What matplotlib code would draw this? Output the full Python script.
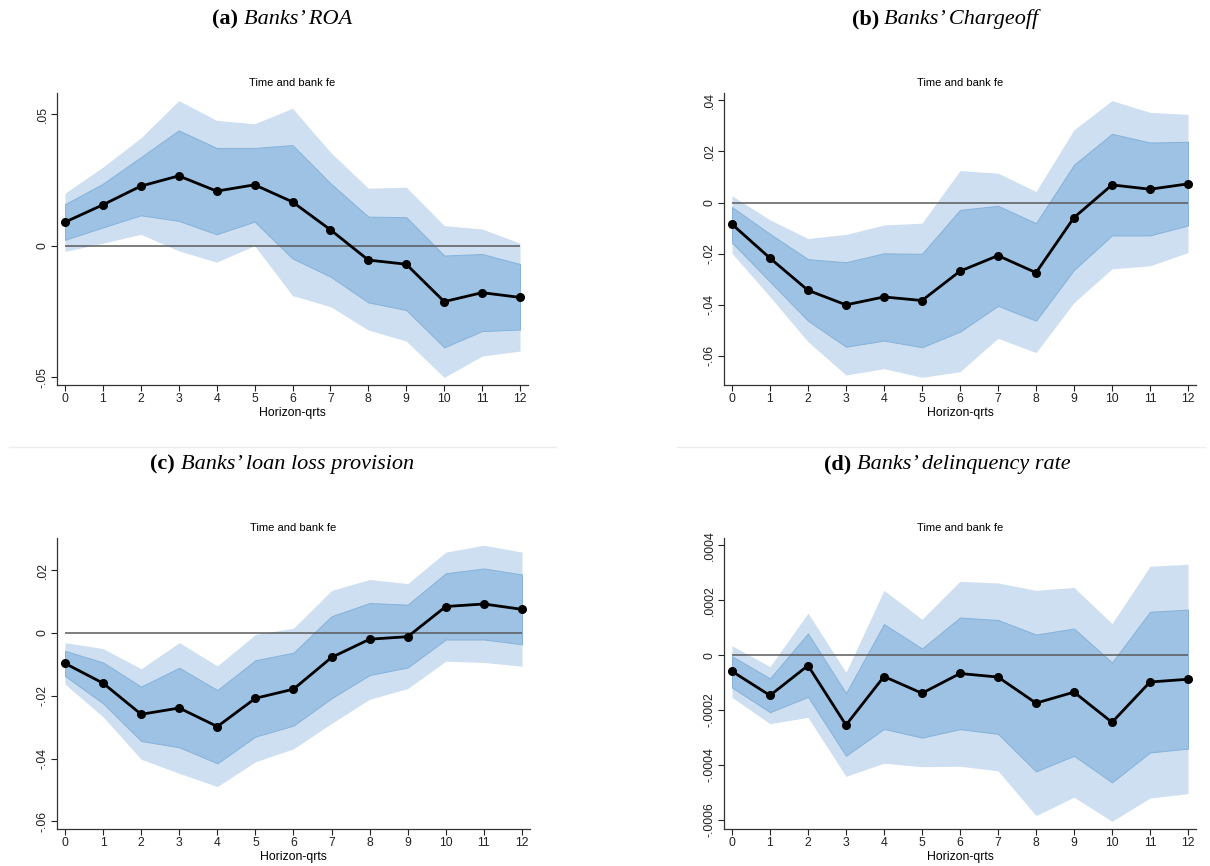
import matplotlib
matplotlib.use("Agg")
import matplotlib.pyplot as plt

# horizon in quarters
horizon = [0, 1, 2, 3, 4, 5, 6, 7, 8, 9, 10, 11, 12]

# (a) ROA
roa_coef = [0.0089, 0.0155, 0.0226, 0.0265, 0.0207, 0.0231, 0.0166, 0.0060, -0.0055, -0.0071, -0.0213, -0.0179, -0.0197]
roa_in_hi = [0.0157, 0.0235, 0.0336, 0.0438, 0.0371, 0.0371, 0.0382, 0.0237, 0.0110, 0.0108, -0.0038, -0.0032, -0.0070]
roa_in_lo = [0.0022, 0.0069, 0.0115, 0.0094, 0.0043, 0.0091, -0.0049, -0.0118, -0.0216, -0.0245, -0.0387, -0.0325, -0.0319]
roa_out_hi = [0.0199, 0.0298, 0.0409, 0.0551, 0.0476, 0.0463, 0.0522, 0.0355, 0.0218, 0.0222, 0.0076, 0.0063, 0.0009]
roa_out_lo = [-0.0022, 0.0009, 0.0043, -0.0020, -0.0063, 0.0000, -0.0190, -0.0232, -0.0321, -0.0363, -0.0501, -0.0420, -0.0401]

# (b) chargeoff
chg_coef = [-0.0085, -0.0218, -0.0344, -0.0401, -0.0370, -0.0384, -0.0269, -0.0208, -0.0275, -0.0059, 0.0069, 0.0052, 0.0073]
chg_in_hi = [-0.0018, -0.0123, -0.0222, -0.0234, -0.0199, -0.0201, -0.0029, -0.0013, -0.0081, 0.0148, 0.0269, 0.0235, 0.0238]
chg_in_lo = [-0.0157, -0.0310, -0.0463, -0.0565, -0.0541, -0.0567, -0.0506, -0.0405, -0.0463, -0.0264, -0.0129, -0.0129, -0.0090]
chg_out_hi = [0.0026, -0.0068, -0.0141, -0.0125, -0.0088, -0.0081, 0.0125, 0.0115, 0.0043, 0.0285, 0.0399, 0.0353, 0.0345]
chg_out_lo = [-0.0199, -0.0369, -0.0545, -0.0676, -0.0651, -0.0685, -0.0663, -0.0532, -0.0588, -0.0392, -0.0260, -0.0248, -0.0196]

# (c) loan loss provision
llp_coef = [-0.0097, -0.0160, -0.0259, -0.0239, -0.0298, -0.0208, -0.0179, -0.0078, -0.0020, -0.0012, 0.0084, 0.0092, 0.0075]
llp_in_hi = [-0.0057, -0.0094, -0.0171, -0.0111, -0.0182, -0.0087, -0.0063, 0.0053, 0.0095, 0.0090, 0.0190, 0.0205, 0.0186]
llp_in_lo = [-0.0137, -0.0224, -0.0344, -0.0364, -0.0415, -0.0330, -0.0295, -0.0208, -0.0134, -0.0110, -0.0021, -0.0021, -0.0036]
llp_out_hi = [-0.0031, -0.0050, -0.0114, -0.0031, -0.0105, -0.0005, 0.0015, 0.0135, 0.0170, 0.0157, 0.0257, 0.0279, 0.0257]
llp_out_lo = [-0.0163, -0.0267, -0.0402, -0.0447, -0.0489, -0.0410, -0.0369, -0.0288, -0.0211, -0.0177, -0.0090, -0.0094, -0.0106]

# (d) delinquency rate
dlq_coef = [-0.000059, -0.000147, -0.000038, -0.000255, -0.000078, -0.000139, -0.000067, -0.000080, -0.000175, -0.000135, -0.000245, -0.000098, -0.000088]
dlq_in_hi = [-0.000004, -0.000085, 0.000079, -0.000139, 0.000113, 0.000024, 0.000137, 0.000128, 0.000075, 0.000097, -0.000027, 0.000158, 0.000166]
dlq_in_lo = [-0.000118, -0.000208, -0.000152, -0.000367, -0.000269, -0.000301, -0.000270, -0.000287, -0.000424, -0.000367, -0.000464, -0.000355, -0.000341]
dlq_out_hi = [0.000034, -0.000042, 0.000153, -0.000063, 0.000236, 0.000131, 0.000269, 0.000263, 0.000236, 0.000247, 0.000115, 0.000324, 0.000331]
dlq_out_lo = [-0.000154, -0.000250, -0.000227, -0.000442, -0.000394, -0.000407, -0.000405, -0.000422, -0.000585, -0.000518, -0.000606, -0.000521, -0.000505]

roa_ticks = [-0.05, 0, 0.05]
chg_ticks = [-0.06, -0.04, -0.02, 0, 0.02, 0.04]
llp_ticks = [-0.06, -0.04, -0.02, 0, 0.02]
dlq_ticks = [-0.0006, -0.0004, -0.0002, 0, 0.0002, 0.0004]

OUTER = "#cddff0"
INNER = "#9dc2e3"
INNER_EDGE = "#86b2da"
SANS = "Liberation Sans"
SERIF = "Liberation Serif"

W, H = 1210, 866
fig = plt.figure(figsize=(W / 100, H / 100), dpi=100)
fig.patch.set_facecolor("white")


def add_axes_px(left, top, right, bottom):
    return fig.add_axes([left / W, 1 - bottom / H, (right - left) / W, (bottom - top) / H])


def stata_label(v):
    if v == 0:
        return "0"
    s = f"{v:g}"
    return s.replace("0.", ".", 1)


def draw_irf(ax, coef, in_lo, in_hi, out_lo, out_hi, yticks, ylim):
    ax.fill_between(horizon, out_lo, out_hi, color=OUTER, lw=0, zorder=1)
    ax.fill_between(horizon, in_lo, in_hi, facecolor=INNER, edgecolor=INNER_EDGE,
                    lw=0.7, zorder=2)
    ax.hlines(0, horizon[0], horizon[-1], color="#5a5a5a", lw=1.1, zorder=3)
    ax.plot(horizon, coef, color="black", lw=2, marker="o", ms=5.5, zorder=4)

    ax.set_xlim(-0.21, 12.21)
    ax.set_ylim(*ylim)
    ax.set_xticks(horizon)
    ax.set_xticklabels([str(h) for h in horizon], fontsize=8.8, family=SANS)
    ax.set_yticks(yticks)
    ax.set_yticklabels([stata_label(v) for v in yticks], fontsize=8.8, family=SANS,
                       rotation=90, va="center")
    ax.tick_params(direction="out", length=4, width=0.8, colors="#222222", pad=2)
    for side in ("top", "right"):
        ax.spines[side].set_visible(False)
    for side in ("left", "bottom"):
        ax.spines[side].set_color("#333333")
        ax.spines[side].set_linewidth(0.9)
    ax.set_xlabel("Horizon-qrts", fontsize=8.8, family=SANS, labelpad=1)
    ax.set_title("Time and bank fe", fontsize=8, family=SANS, pad=5)


def panel_title(cx, cy, tag, text):
    r = fig.canvas.get_renderer()
    t1 = fig.text(0, 0, tag + " ", fontsize=16, weight="bold", family=SERIF,
                  ha="left", va="center")
    t2 = fig.text(0, 0, text, fontsize=16, style="italic", family=SERIF,
                  ha="left", va="center")
    w1 = t1.get_window_extent(r).width
    w2 = t2.get_window_extent(r).width
    x0 = cx - (w1 + w2) / 2
    t1.set_position((x0 / W, 1 - cy / H))
    t2.set_position(((x0 + w1) / W, 1 - cy / H))


ax_a = add_axes_px(57, 93, 528, 385)
draw_irf(ax_a, roa_coef, roa_in_lo, roa_in_hi, roa_out_lo, roa_out_hi,
         roa_ticks, (-0.053, 0.058))
ax_b = add_axes_px(724, 93, 1196, 385)
draw_irf(ax_b, chg_coef, chg_in_lo, chg_in_hi, chg_out_lo, chg_out_hi,
         chg_ticks, (-0.0715, 0.0429))
ax_c = add_axes_px(57, 538, 530, 829)
draw_irf(ax_c, llp_coef, llp_in_lo, llp_in_hi, llp_out_lo, llp_out_hi,
         llp_ticks, (-0.0624, 0.0302))
ax_d = add_axes_px(724, 538, 1196, 829)
draw_irf(ax_d, dlq_coef, dlq_in_lo, dlq_in_hi, dlq_out_lo, dlq_out_hi,
         dlq_ticks, (-0.000634, 0.000427))

panel_title(282, 19, "(a)", "Banks’ ROA")
panel_title(945, 19, "(b)", "Banks’ Chargeoff")
panel_title(282, 464, "(c)", "Banks’ loan loss provision")
panel_title(947, 464, "(d)", "Banks’ delinquency rate")

# thin rules between the two rows
fig.add_artist(plt.Line2D([9 / W, 556 / W], [1 - 447 / H] * 2, color="#eeeeee", lw=1))
fig.add_artist(plt.Line2D([677 / W, 1205 / W], [1 - 447 / H] * 2, color="#eeeeee", lw=1))

fig.savefig("out.png", dpi=100)
